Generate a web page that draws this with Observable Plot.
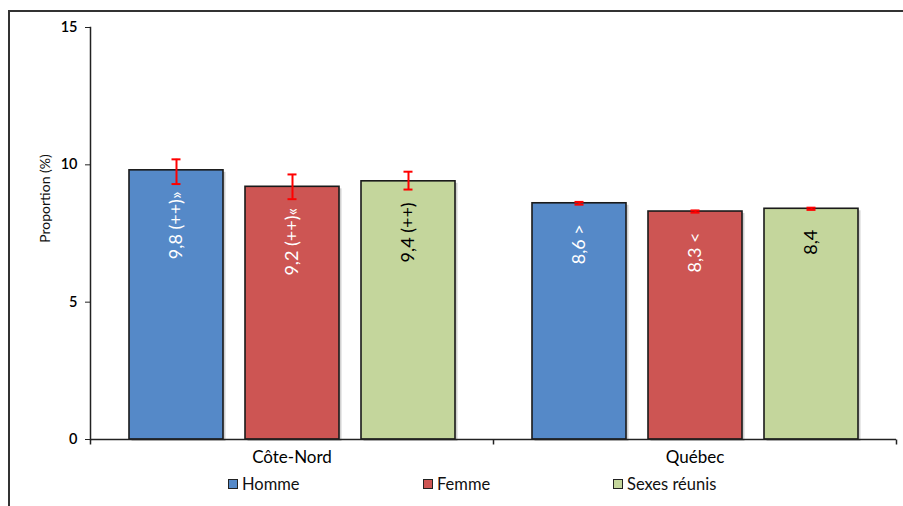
<!DOCTYPE html>
<html>
<head>
<meta charset="utf-8">
<script src="https://cdn.jsdelivr.net/npm/d3@7"></script>
<script src="https://cdn.jsdelivr.net/npm/@observablehq/plot@0.6"></script>
<style>
  html, body { margin: 0; padding: 0; background: #fff; }
  #page { position: relative; width: 903px; height: 506px; overflow: hidden; font-family: Lato, "Open Sans", sans-serif; }
  #border { position: absolute; left: 8px; top: 10px; width: 900px; height: 500px; border-left: 2px solid #333; border-top: 2px solid #333; box-sizing: border-box; }
  #chart { position: absolute; left: 0; top: 0; }
  #legend { position: absolute; top: 474px; left: 228px; display: flex; font-size: 16.5px; color: #111; }
  .item { display: flex; align-items: center; }
  .sw { width: 8px; height: 8px; border: 1.5px solid #222; margin-right: 4px; }
</style>
</head>
<body>
<div id="page">
  <div id="border"></div>
  <div id="chart"></div>
  <div id="legend"></div>
</div>
<script>
const regions = ["Côte-Nord", "Québec"];
const sexes = ["Homme", "Femme", "Sexes réunis"];
const colors = ["#5589c8", "#cd5553", "#c4d69c"];
const labelColors = ["#ffffff", "#ffffff", "#000000"];
const values = [[9.8, 9.2, 9.4], [8.6, 8.3, 8.4]];
const ciLow = [[9.3, 8.75, 9.1], [8.55, 8.26, 8.36]];
const ciHigh = [[10.2, 9.65, 9.75], [8.65, 8.34, 8.44]];
const labels = [["9,8 (++)»", "9,2 (++)«", "9,4 (++)"], ["8,6 >", "8,3 <", "8,4"]];
const yTicks = [0, 5, 10, 15];
const yLabel = "Proportion (%)";

const data = [];
regions.forEach((r, i) => sexes.forEach((s, j) => data.push({
  region: r, sex: s, value: values[i][j], lo: ciLow[i][j], hi: ciHigh[i][j],
  label: labels[i][j], textColor: labelColors[j]
})));

const tickSymbol = { draw(ctx) { ctx.moveTo(0, 0); ctx.lineTo(0, 5); } };

const chart = Plot.plot({
  width: 903,
  height: 470,
  marginTop: 27,
  marginBottom: 31,
  marginLeft: 90,
  marginRight: 7,
  style: { fontFamily: "Lato, 'Open Sans', sans-serif", background: "transparent" },
  fx: { domain: regions, padding: 0, label: null },
  x: { domain: sexes, paddingInner: 0.19, paddingOuter: 0.33, axis: null },
  y: { domain: [0, 15], label: null },
  color: { domain: sexes, range: colors },
  marks: [
    Plot.axisFx({ anchor: "bottom", tickSize: 0, tickPadding: 11, fontSize: 17, label: null }),
    Plot.axisY({ ticks: yTicks, tickSize: 5, tickPadding: 8, fontSize: 14.5, fontWeight: 600, label: null, facetAnchor: "left", stroke: "#222" }),
    Plot.text([yLabel], { frameAnchor: "left", textAnchor: "middle", rotate: -90, dx: -45, dy: -35, fontSize: 14, fill: "#111", facetAnchor: "left" }),
    Plot.barY(data, { fx: "region", x: "sex", y: "value", fill: "#000", fillOpacity: 0.18, dx: 2.5, dy: 2 }),
    Plot.barY(data, { fx: "region", x: "sex", y: "value", fill: "sex", stroke: "#1a1a1a", strokeWidth: 1.6 }),
    Plot.text(data, { fx: "region", x: "sex", y: "value", text: "label", rotate: -90, textAnchor: "end", lineAnchor: "middle", dy: 21, fill: "textColor", fontSize: 18 }),
    Plot.ruleX(data, { fx: "region", x: "sex", y1: "lo", y2: "hi", stroke: "#ff0000", strokeWidth: 2 }),
    Plot.tickY(data, { fx: "region", x: "sex", y: "lo", stroke: "#ff0000", strokeWidth: 2, insetLeft: 42.5, insetRight: 42.5 }),
    Plot.tickY(data, { fx: "region", x: "sex", y: "hi", stroke: "#ff0000", strokeWidth: 2, insetLeft: 42.5, insetRight: 42.5 }),
    Plot.ruleY([0], { stroke: "#222", strokeWidth: 1.5 }),
    Plot.frame({ anchor: "left", facetAnchor: "left", stroke: "#222", strokeWidth: 1.5 }),
    Plot.dot(regions, { fx: d => d, frameAnchor: "bottom-left", symbol: tickSymbol, stroke: "#222", strokeWidth: 1.5, fill: "none" }),
    Plot.dot([0], { frameAnchor: "bottom-right", symbol: tickSymbol, stroke: "#222", strokeWidth: 1.5, fill: "none", facetAnchor: "right" })
  ]
});
document.getElementById("chart").appendChild(chart);

const legend = document.getElementById("legend");
const itemWidths = [195, 190, 120];
sexes.forEach((s, i) => {
  const it = document.createElement("div");
  it.className = "item";
  it.style.width = itemWidths[i] + "px";
  const sw = document.createElement("div");
  sw.className = "sw";
  sw.style.background = colors[i];
  const t = document.createElement("span");
  t.textContent = s;
  it.appendChild(sw); it.appendChild(t);
  legend.appendChild(it);
});
</script>
</body>
</html>
